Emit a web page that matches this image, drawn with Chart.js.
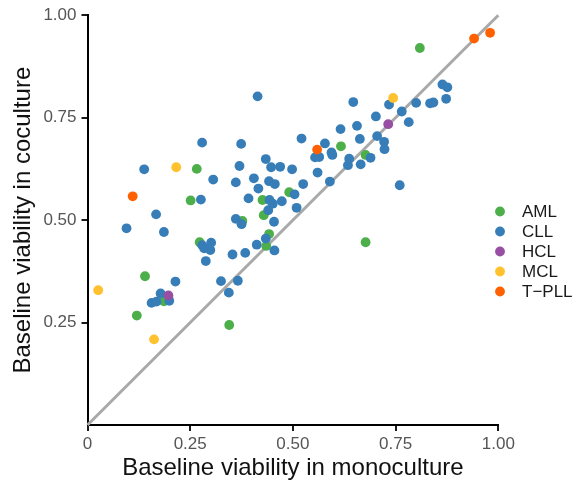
<!DOCTYPE html>
<html>
<head>
<meta charset="utf-8">
<script src="https://cdn.jsdelivr.net/npm/chart.js@4"></script>
<style>
  html, body { margin: 0; padding: 0; background: #fff; }
  #wrap { width: 583px; height: 486px; }
</style>
</head>
<body>
<div id="wrap"><canvas id="viabilityChart" width="583" height="486"></canvas></div>
<script>
// categories (legend order) and their colours
const categories = ['AML', 'CLL', 'HCL', 'MCL', 'T\u2212PLL'];
const catColors = ['#4DAF4A', '#377EB8', '#984EA3', '#FFC12E', '#FF6100'];

// baseline viability: x = monoculture, y = coculture
const amlX = [0.617, 0.677, 0.809, 0.266, 0.251, 0.426, 0.429, 0.377, 0.442, 0.435, 0.273, 0.491, 0.140, 0.186, 0.120, 0.345, 0.677];
const amlY = [0.680, 0.659, 0.920, 0.625, 0.548, 0.549, 0.512, 0.498, 0.466, 0.437, 0.446, 0.568, 0.363, 0.302, 0.267, 0.244, 0.446];

const cllX = [0.414, 0.279, 0.374, 0.434, 0.521, 0.578, 0.594, 0.596, 0.554, 0.564,
              0.616, 0.647, 0.656, 0.663, 0.702, 0.705, 0.637, 0.689, 0.864, 0.876,
              0.734, 0.800, 0.834, 0.842, 0.873, 0.765, 0.782, 0.722, 0.723, 0.138,
              0.370, 0.447, 0.469, 0.306, 0.361, 0.405, 0.442, 0.456, 0.416, 0.276,
              0.392, 0.443, 0.451, 0.440, 0.167, 0.361, 0.375, 0.454, 0.095, 0.186,
              0.434, 0.412, 0.455, 0.279, 0.284, 0.301, 0.299, 0.288, 0.353, 0.384,
              0.214, 0.325, 0.366, 0.344, 0.178, 0.156, 0.168, 0.199, 0.498, 0.560,
              0.634, 0.665, 0.590, 0.760, 0.525, 0.504, 0.473, 0.509];
const cllY = [0.802, 0.689, 0.686, 0.649, 0.699, 0.687, 0.665, 0.659, 0.653, 0.654,
              0.722, 0.788, 0.730, 0.698, 0.753, 0.705, 0.650, 0.652, 0.831, 0.824,
              0.782, 0.786, 0.785, 0.787, 0.796, 0.765, 0.739, 0.691, 0.673, 0.624,
              0.632, 0.629, 0.630, 0.599, 0.592, 0.602, 0.595, 0.588, 0.577, 0.550,
              0.553, 0.549, 0.540, 0.524, 0.514, 0.503, 0.490, 0.496, 0.480, 0.471,
              0.455, 0.440, 0.426, 0.439, 0.431, 0.445, 0.427, 0.400, 0.416, 0.420,
              0.350, 0.351, 0.352, 0.323, 0.321, 0.298, 0.301, 0.303, 0.624, 0.616,
              0.634, 0.636, 0.594, 0.585, 0.588, 0.563, 0.546, 0.530];

const hclX = [0.732, 0.197];
const hclY = [0.734, 0.316];

const mclX = [0.744, 0.216, 0.026, 0.162];
const mclY = [0.798, 0.629, 0.329, 0.209];

const tpllX = [0.941, 0.980, 0.559, 0.110];
const tpllY = [0.943, 0.957, 0.672, 0.558];

// axis ticks
const xTicks = [0, 0.25, 0.5, 0.75, 1];
const yTicks = [0.25, 0.5, 0.75, 1];
const xTickLabels = ['0', '0.25', '0.50', '0.75', '1.00'];
const yTickLabels = ['0.25', '0.50', '0.75', '1.00'];

// identity line
const diagX = [0, 1];
const diagY = [0, 1];

function toPoints(xs, ys) {
  return xs.map((x, i) => ({ x: x, y: ys[i] }));
}

const groups = [amlX, cllX, hclX, mclX, tpllX];
const groupsY = [amlY, cllY, hclY, mclY, tpllY];

const pointSets = categories.map((name, i) => ({
  type: 'scatter',
  label: name,
  data: toPoints(groups[i], groupsY[i]),
  backgroundColor: catColors[i],
  borderWidth: 0,
  pointRadius: 4.9,
  pointHoverRadius: 4.9,
  order: 5 - i
}));

const diagSet = {
  type: 'line',
  label: 'identity',
  data: toPoints(diagX, diagY),
  borderColor: '#A9A9A9',
  borderWidth: 3,
  pointRadius: 0,
  fill: false,
  order: 10,
  clip: false
};

// legend drawn to the right of the panel, from the datasets
const sideLegend = {
  id: 'sideLegend',
  afterDraw(chart) {
    const ctx = chart.ctx;
    ctx.save();
    ctx.font = '17px "Liberation Sans", Arial, sans-serif';
    ctx.textBaseline = 'middle';
    ctx.textAlign = 'left';
    let y = 211.5;
    chart.data.datasets.forEach(ds => {
      if (!categories.includes(ds.label)) return;
      ctx.fillStyle = ds.backgroundColor;
      ctx.beginPath();
      ctx.arc(500, y, 4.9, 0, Math.PI * 2);
      ctx.fill();
      ctx.fillStyle = '#1a1a1a';
      ctx.fillText(ds.label, 522, y + 1);
      y += 20;
    });
    ctx.restore();
  }
};

const ctx = document.getElementById('viabilityChart').getContext('2d');
const viabilityChart = new Chart(ctx, {
  data: { datasets: [...pointSets, diagSet] },
  options: {
    responsive: false,
    animation: false,
    layout: { padding: { top: 15, right: 84.7, bottom: 0, left: 0 } },
    plugins: { legend: { display: false }, tooltip: { enabled: false } },
    scales: {
      x: {
        type: 'linear',
        min: 0,
        max: 1,
        afterBuildTicks: scale => { scale.ticks = xTicks.map(v => ({ value: v })); },
        afterFit: scale => { scale.height = 61; },
        ticks: {
          color: '#555555',
          font: { family: '"Liberation Sans", Arial, sans-serif', size: 17 },
          padding: 3,
          maxRotation: 0,
          callback: (v, i) => xTickLabels[i]
        },
        grid: { display: true, drawOnChartArea: false, tickLength: 6, color: '#1a1a1a', lineWidth: 2 },
        border: { display: true, color: '#000', width: 2 },
        title: {
          display: true,
          text: 'Baseline viability in monoculture',
          color: '#111',
          font: { family: '"Liberation Sans", Arial, sans-serif', size: 24 },
          padding: { top: 0, bottom: 3 }
        }
      },
      y: {
        type: 'linear',
        min: 0,
        max: 1,
        afterBuildTicks: scale => { scale.ticks = yTicks.map(v => ({ value: v })); },
        afterFit: scale => { scale.width = 87.5; },
        ticks: {
          color: '#555555',
          font: { family: '"Liberation Sans", Arial, sans-serif', size: 17 },
          padding: 5,
          callback: (v, i) => yTickLabels[i]
        },
        grid: { display: true, drawOnChartArea: false, tickLength: 6, color: '#1a1a1a', lineWidth: 2 },
        border: { display: true, color: '#000', width: 2 },
        title: {
          display: true,
          text: 'Baseline viability in coculture',
          color: '#111',
          font: { family: '"Liberation Sans", Arial, sans-serif', size: 24 },
          padding: { top: 9, bottom: 0 }
        }
      }
    }
  },
  plugins: [sideLegend]
});
</script>
</body>
</html>
